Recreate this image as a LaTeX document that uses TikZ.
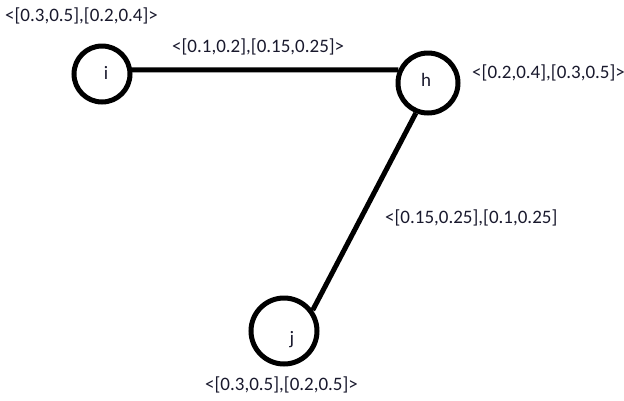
\documentclass[tikz,border=0pt]{standalone}
\usepackage{fontspec}
\setmainfont{Carlito}
\definecolor{txt}{RGB}{25,25,45}
\begin{document}
\begin{tikzpicture}[x=1pt,y=-1pt,
  vert/.style={circle,draw=black,line width=5pt,inner sep=0pt},
  lab/.style={text=txt,font=\fontsize{19}{22}\selectfont,inner sep=0pt},
  edge/.style={line width=5pt,black}]
\useasboundingbox (0,0) rectangle (624,400);
\node[vert,minimum size=56pt] (i) at (102,74) {};
\node[vert,minimum size=60pt] (h) at (428,83) {};
\node[vert,minimum size=66pt] (j) at (284,331) {};
\node[lab] (li) at (106,73) {i};
\node[lab] (lh) at (426,80) {h};
\node[lab] (lj) at (292,340) {j};
\draw[edge] (i.8) -- (h.156);
\draw[edge] (h.248) -- (j.36);
\node[lab,anchor=west] (ti) at (5,16) {<[0.3,0.5],[0.2,0.4]>};
\node[lab,anchor=west] (tih) at (172,47) {<[0.1,0.2],[0.15,0.25]>};
\node[lab,anchor=west] (th) at (472,73) {<[0.2,0.4],[0.3,0.5]>};
\node[lab,anchor=west] (thj) at (385,218) {<[0.15,0.25],[0.1,0.25]};
\node[lab,anchor=west] (tj) at (205,385) {<[0.3,0.5],[0.2,0.5]>};
\end{tikzpicture}
\end{document}
